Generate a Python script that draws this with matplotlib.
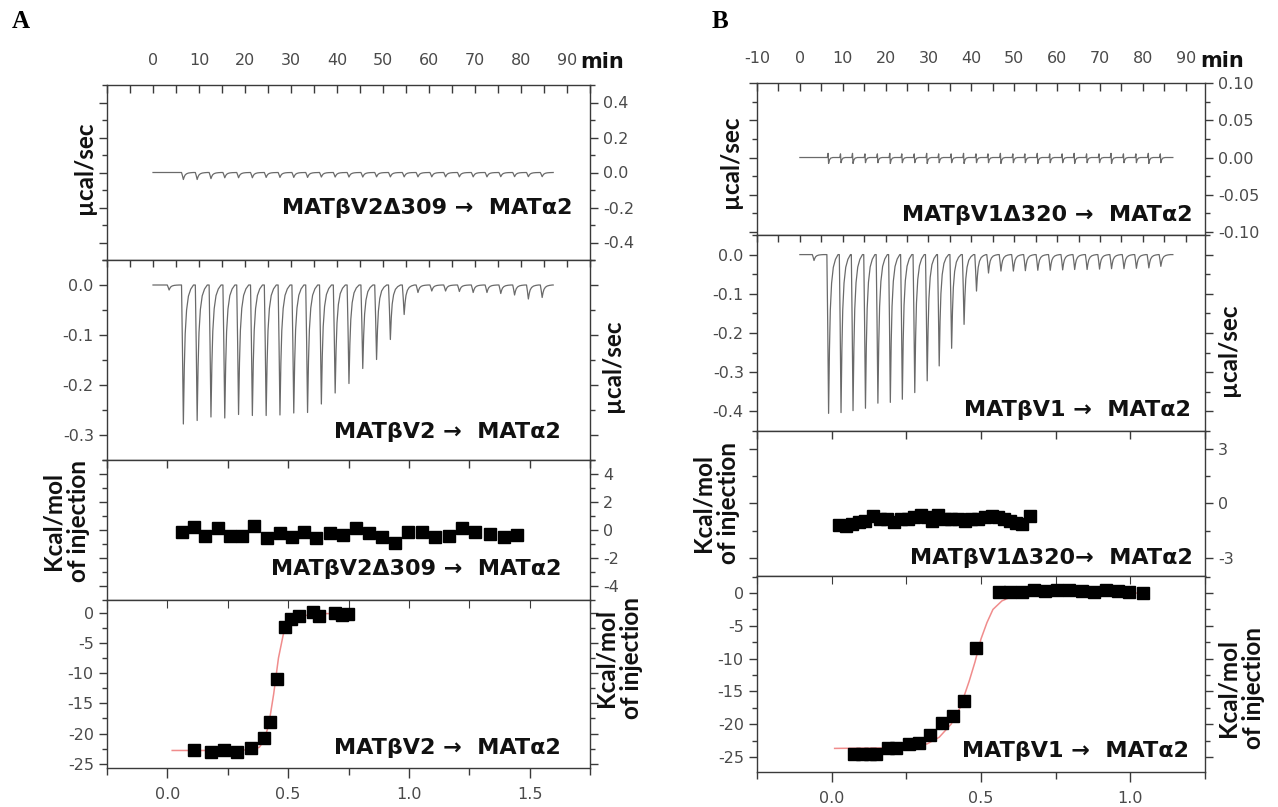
import numpy as np
import matplotlib
matplotlib.use("Agg")
import matplotlib.pyplot as plt
from matplotlib.ticker import MultipleLocator, FixedLocator

plt.rcParams["axes.unicode_minus"] = False

# ---------------- data ----------------
# Panel A, raw thermograms (time in min, peak height in ucal/sec)
a_peak_times = [6.6, 9.6, 12.6, 15.6, 18.6, 21.6, 24.6, 27.6, 30.6, 33.6, 36.6, 39.6,
                42.6, 45.6, 48.6, 51.6, 54.6, 57.6, 60.6, 63.6, 66.6, 69.6, 72.6, 75.6,
                78.6, 81.6, 84.6]
a2_peak_depths = [-0.278, -0.271, -0.264, -0.266, -0.259, -0.261, -0.261, -0.260, -0.256,
                  -0.255, -0.238, -0.216, -0.197, -0.167, -0.149, -0.109, -0.059, -0.015,
                  -0.012, -0.012, -0.013, -0.015, -0.015, -0.017, -0.020, -0.028, -0.025]
a1_peak_depths = [-0.040, -0.040, -0.035, -0.030, -0.030, -0.030, -0.028, -0.028, -0.028,
                  -0.028, -0.026, -0.026, -0.026, -0.026, -0.025, -0.025, -0.025, -0.025,
                  -0.025, -0.025, -0.025, -0.025, -0.025, -0.024, -0.024, -0.024, -0.024]
a_pre_injection = (3.5, -0.010)

# Panel B, raw thermograms
b_peak_times = [6.7, 9.6, 12.4, 15.3, 18.2, 21.1, 23.9, 26.8, 29.7, 32.5, 35.4, 38.3,
                41.2, 44.0, 46.9, 49.8, 52.6, 55.5, 58.4, 61.3, 64.1, 67.0, 69.9, 72.7,
                75.6, 78.5, 81.4, 84.2]
b2_peak_depths = [-0.405, -0.403, -0.398, -0.392, -0.379, -0.377, -0.369, -0.352, -0.322,
                  -0.284, -0.239, -0.178, -0.093, -0.047, -0.042, -0.042, -0.041, -0.040,
                  -0.040, -0.039, -0.038, -0.038, -0.037, -0.036, -0.036, -0.035, -0.034,
                  -0.030]
b1_peak_depths = [-0.008, -0.007, -0.008, -0.007, -0.007, -0.008, -0.007, -0.007, -0.008,
                  -0.007, -0.007, -0.008, -0.007, -0.007, -0.008, -0.007, -0.007, -0.008,
                  -0.007, -0.007, -0.008, -0.007, -0.007, -0.008, -0.007, -0.007, -0.008,
                  -0.007]
b_pre_injection = (3.3, -0.015)

# peak shape (offset from peak in min, fraction of depth)
peak_offsets = [-0.4, -0.2, 0.0, 0.2, 0.4, 0.7, 1.1, 1.6, 2.2]
peak_fraction = [0.0, 0.45, 1.0, 0.6, 0.35, 0.18, 0.08, 0.03, 0.0]
spike_offsets = [-0.3, -0.12, 0.0, 0.2, 0.5, 1.0]
spike_fraction = [0.0, -0.7, 1.0, 0.4, 0.1, 0.0]
trace_end = 87.0

# Panel A, integrated heats (molar ratio, kcal/mol of injection)
a3_ratio = [0.059, 0.110, 0.155, 0.211, 0.258, 0.307, 0.358, 0.414, 0.465, 0.514, 0.564,
            0.617, 0.672, 0.726, 0.780, 0.836, 0.890, 0.941, 0.997, 1.056, 1.110, 1.166,
            1.221, 1.275, 1.334, 1.394, 1.449]
a3_heat = [-0.12, 0.19, -0.41, 0.12, -0.41, -0.45, 0.31, -0.57, -0.22, -0.53, -0.12,
           -0.57, -0.22, -0.36, 0.12, -0.24, -0.53, -0.93, -0.17, -0.17, -0.53, -0.45,
           0.12, -0.17, -0.29, -0.53, -0.36]
a4_ratio = [0.110, 0.182, 0.235, 0.287, 0.346, 0.399, 0.427, 0.456, 0.485, 0.512, 0.546,
            0.601, 0.628, 0.693, 0.723, 0.748]
a4_heat = [-22.7, -23.0, -22.7, -23.0, -22.4, -20.8, -18.1, -10.9, -2.4, -1.0, -0.6,
           0.05, -0.5, 0.0, -0.3, -0.2]
a4_fit_x = [0.02, 0.20, 0.33, 0.38, 0.40, 0.42, 0.44, 0.46, 0.48, 0.50, 0.52, 0.55, 0.60,
            0.66, 0.75]
a4_fit_y = [-22.8, -22.8, -22.7, -22.3, -21.2, -18.5, -13.5, -7.5, -3.6, -1.7, -1.0, -0.6,
            -0.3, -0.15, -0.1]

# Panel B, integrated heats
b3_ratio = [0.024, 0.047, 0.068, 0.091, 0.113, 0.138, 0.163, 0.186, 0.210, 0.231, 0.254,
            0.275, 0.299, 0.319, 0.336, 0.357, 0.380, 0.400, 0.423, 0.448, 0.468, 0.491,
            0.513, 0.536, 0.556, 0.577, 0.597, 0.617, 0.638, 0.665]
b3_heat = [-1.16, -1.25, -1.12, -1.03, -0.94, -0.70, -0.88, -0.84, -1.01, -0.88, -0.88,
           -0.73, -0.66, -0.75, -0.94, -0.61, -0.84, -0.84, -0.88, -0.97, -0.88, -0.84,
           -0.73, -0.70, -0.75, -0.83, -0.94, -1.06, -1.12, -0.70]
b4_ratio = [0.075, 0.102, 0.129, 0.149, 0.187, 0.217, 0.258, 0.292, 0.330, 0.369, 0.407,
            0.444, 0.483, 0.559, 0.597, 0.638, 0.676, 0.715, 0.756, 0.794, 0.837, 0.878,
            0.919, 0.959, 0.997, 1.041]
b4_heat = [-24.6, -24.6, -24.6, -24.6, -23.6, -23.6, -23.0, -22.8, -21.6, -19.9, -18.7,
           -16.5, -8.4, 0.1, 0.1, 0.1, 0.5, 0.25, 0.5, 0.5, 0.25, 0.15, 0.4, 0.25, 0.15, 0.0]
b4_fit_x = [0.01, 0.25, 0.32, 0.36, 0.40, 0.43, 0.46, 0.48, 0.50, 0.52, 0.54, 0.57, 0.60,
            0.65, 0.75, 0.90, 1.05]
b4_fit_y = [-23.7, -23.6, -23.0, -22.0, -20.0, -17.5, -13.5, -10.5, -7.0, -4.5, -2.5, -1.2,
            -0.6, -0.25, -0.1, -0.03, 0.0]

time_ticks_a = [0, 10, 20, 30, 40, 50, 60, 70, 80, 90]
time_ticks_b = [-10, 0, 10, 20, 30, 40, 50, 60, 70, 80, 90]

label_a_delta = "MAT\u03b2V2\u0394309 \u2192  MAT\u03b12"
label_a_full = "MAT\u03b2V2 \u2192  MAT\u03b12"
label_b_delta = "MAT\u03b2V1\u0394320 \u2192  MAT\u03b12"
label_b_delta2 = "MAT\u03b2V1\u0394320\u2192  MAT\u03b12"
label_b_full = "MAT\u03b2V1 \u2192  MAT\u03b12"

# ---------------- helpers ----------------
W, H = 1278, 807
fig = plt.figure(figsize=(W / 100, H / 100), dpi=100)

SP = "#3a3a3a"
TL = "#4a4a4a"
TICK_FONT = "DejaVu Sans"
TICK_SIZE = 11.5
ANN_FONT = dict(family="DejaVu Sans", weight="bold", size=16, color="#111111")
LAB_FONT = dict(family="Lato", weight="bold", size=17.5, color="#111111")


def add_ax(x0, x1, y0, y1):
    return fig.add_axes([x0 / W, 1 - y1 / H, (x1 - x0) / W, (y1 - y0) / H])


def build_trace(times, depths, offs, fracs, pre=None):
    t = [0.0]
    y = [0.0]
    if pre is not None:
        for o, f in zip(offs, fracs):
            t.append(pre[0] + o)
            y.append(pre[1] * f)
    for tp, d in zip(times, depths):
        for o, f in zip(offs, fracs):
            t.append(tp + o)
            y.append(d * f)
    t.append(trace_end)
    y.append(0.0)
    return t, y


def base_style(ax):
    for sp in ax.spines.values():
        sp.set_color(SP)
        sp.set_linewidth(1.0)
    ax.tick_params(which="both", color=SP, labelcolor=TL, labelsize=TICK_SIZE, width=1.0)
    ax.tick_params(which="major", length=6)
    ax.tick_params(which="minor", length=3.5)


def y_style(ax, major, labels_right):
    ax.yaxis.set_major_locator(MultipleLocator(major))
    ax.yaxis.set_minor_locator(MultipleLocator(major / 2))
    ax.tick_params(axis="y", which="both", direction="out", left=True, right=True,
                   labelleft=not labels_right, labelright=labels_right)


def top_inward(ax, major, minor, labels=None):
    ax.xaxis.set_ticks_position("top")
    if labels is None:
        ax.xaxis.set_major_locator(MultipleLocator(major))
        ax.tick_params(axis="x", labeltop=False, labelbottom=False)
    else:
        ax.xaxis.set_major_locator(FixedLocator(labels))
        ax.tick_params(axis="x", labeltop=True, labelbottom=False, pad=12)
    ax.xaxis.set_minor_locator(MultipleLocator(minor))
    ax.tick_params(axis="x", which="both", direction="in", top=True, bottom=False,
                   length=6)


def fmt_y(ax, fmt):
    def f(v, p):
        s = fmt.format(v)
        if abs(v) < 1e-9:
            s = s.replace("-", "")
        return s
    ax.yaxis.set_major_formatter(plt.FuncFormatter(f))


def draw_panel_set(xl, xr, ys, tlim, rlim, time_labels, top_trace, top_ylim, top_major,
                   top_fmt, mid_trace, mid_ylim, mid_major, r_pts, r_ylim, r_major,
                   b_pts, b_fit, b_ylim, b_major, texts, text_pos):
    # top panel: blank titration thermogram
    ax1 = add_ax(xl, xr, ys[0], ys[1])
    ax1.plot(top_trace[0], top_trace[1], color="#6a6a6a", lw=0.9)
    ax1.set_xlim(*tlim)
    ax1.set_ylim(*top_ylim)
    base_style(ax1)
    top_inward(ax1, 10, 5, labels=time_labels)
    y_style(ax1, top_major, True)
    fmt_y(ax1, top_fmt)

    # second panel: titration thermogram
    ax2 = add_ax(xl, xr, ys[1], ys[2])
    ax2.plot(mid_trace[0], mid_trace[1], color="#6a6a6a", lw=0.9)
    ax2.set_xlim(*tlim)
    ax2.set_ylim(*mid_ylim)
    base_style(ax2)
    top_inward(ax2, 10, 5)
    ax2.tick_params(axis="x", which="both", length=5)
    y_style(ax2, mid_major, False)
    fmt_y(ax2, "{:.1f}")

    # third panel: blank integrated heats
    ax3 = add_ax(xl, xr, ys[2], ys[3])
    ax3.plot(r_pts[0], r_pts[1], ls="none", marker="s", ms=8.5, color="black")
    ax3.set_xlim(*rlim)
    ax3.set_ylim(*r_ylim)
    base_style(ax3)
    top_inward(ax3, 0.5, 0.25)
    y_style(ax3, r_major, True)
    fmt_y(ax3, "{:.0f}")

    # bottom panel: integrated heats + fit
    ax4 = add_ax(xl, xr, ys[3], ys[4])
    ax4.plot(b_fit[0], b_fit[1], color="#f08c8c", lw=1.1, zorder=1)
    ax4.plot(b_pts[0], b_pts[1], ls="none", marker="s", ms=8.5, color="black", zorder=2)
    ax4.set_xlim(*rlim)
    ax4.set_ylim(*b_ylim)
    base_style(ax4)
    ax4.xaxis.set_major_locator(MultipleLocator(0.5))
    ax4.xaxis.set_minor_locator(MultipleLocator(0.25))
    ax4.xaxis.set_major_formatter(plt.FuncFormatter(lambda v, p: "{:.1f}".format(v)))
    ax4.tick_params(axis="x", which="both", direction="out", bottom=True, top=False, pad=7)
    ax4.tick_params(axis="x", which="major", length=7)
    ax4.tick_params(axis="x", which="minor", length=5)
    sec = ax4.secondary_xaxis("top")
    sec.xaxis.set_major_locator(MultipleLocator(0.25))
    sec.tick_params(axis="x", direction="in", length=6, color=SP, labeltop=False)
    sec.spines["top"].set_visible(False)
    y_style(ax4, b_major, False)
    fmt_y(ax4, "{:.0f}")
    axes = (ax1, ax2, ax3, ax4)
    for a in axes:
        for lab in a.get_xticklabels() + a.get_yticklabels():
            lab.set_family(TICK_FONT)
    for a, txt, (xr_px, yc) in zip(axes, texts, text_pos):
        fig.text(xr_px / W, 1 - yc / H, txt, ha="right", va="center", **ANN_FONT)
    return axes


ta1 = build_trace(a_peak_times, a1_peak_depths, peak_offsets, peak_fraction)
ta2 = build_trace(a_peak_times, a2_peak_depths, peak_offsets, peak_fraction, a_pre_injection)
tb1 = build_trace(b_peak_times, b1_peak_depths, spike_offsets, spike_fraction)
tb2 = build_trace(b_peak_times, b2_peak_depths, peak_offsets, peak_fraction, b_pre_injection)

draw_panel_set(107, 590, [85, 260, 460, 600, 768], (-10, 95), (-0.25, 1.75), time_ticks_a,
               ta1, (-0.5, 0.5), 0.2, "{:.1f}",
               ta2, (-0.35, 0.05), 0.1,
               (a3_ratio, a3_heat), (-5, 5), 2,
               (a4_ratio, a4_heat), (a4_fit_x, a4_fit_y), (-25.7, 2.1), 5,
               [label_a_delta, label_a_full, label_a_delta, label_a_full],
               [(572, 208), (561, 432), (561, 569), (561, 748)])

draw_panel_set(757, 1205, [83, 235, 431, 576, 772], (-10, 94.5), (-0.25, 1.25), time_ticks_b,
               tb1, (-0.104, 0.1), 0.05, "{:.2f}",
               tb2, (-0.45, 0.05), 0.1,
               (b3_ratio, b3_heat), (-4, 4), 3,
               (b4_ratio, b4_heat), (b4_fit_x, b4_fit_y), (-27.3, 2.6), 5,
               [label_b_delta, label_b_full, label_b_delta2, label_b_full],
               [(1193, 215), (1191, 410), (1193, 558), (1189, 751)])


# axis titles
def vlabel(x, y, s):
    fig.text(x / W, 1 - y / H, s, rotation=90, ha="center", va="center",
             multialignment="center", linespacing=1.15, **LAB_FONT)


vlabel(85, 168, "\u00b5cal/sec")
vlabel(613, 366, "\u00b5cal/sec")
vlabel(66, 521, "Kcal/mol\nof injection")
vlabel(619, 658, "Kcal/mol\nof injection")
vlabel(731, 162, "\u00b5cal/sec")
vlabel(1229, 350, "\u00b5cal/sec")
vlabel(716, 503, "Kcal/mol\nof injection")
vlabel(1241, 688, "Kcal/mol\nof injection")

# "min" unit after the time ticks
fig.text(580 / W, 1 - 62 / H, "min", ha="left", va="center", family="DejaVu Sans",
         weight="bold", size=15, color="#111111")
fig.text(1200 / W, 1 - 61 / H, "min", ha="left", va="center", family="DejaVu Sans",
         weight="bold", size=15, color="#111111")

# panel letters
fig.text(12 / W, 1 - 22 / H, "A", ha="left", va="center", family="Liberation Serif",
         weight="bold", size=18, color="black")
fig.text(712 / W, 1 - 22 / H, "B", ha="left", va="center", family="Liberation Serif",
         weight="bold", size=18, color="black")

fig.savefig("out.png", dpi=100)
